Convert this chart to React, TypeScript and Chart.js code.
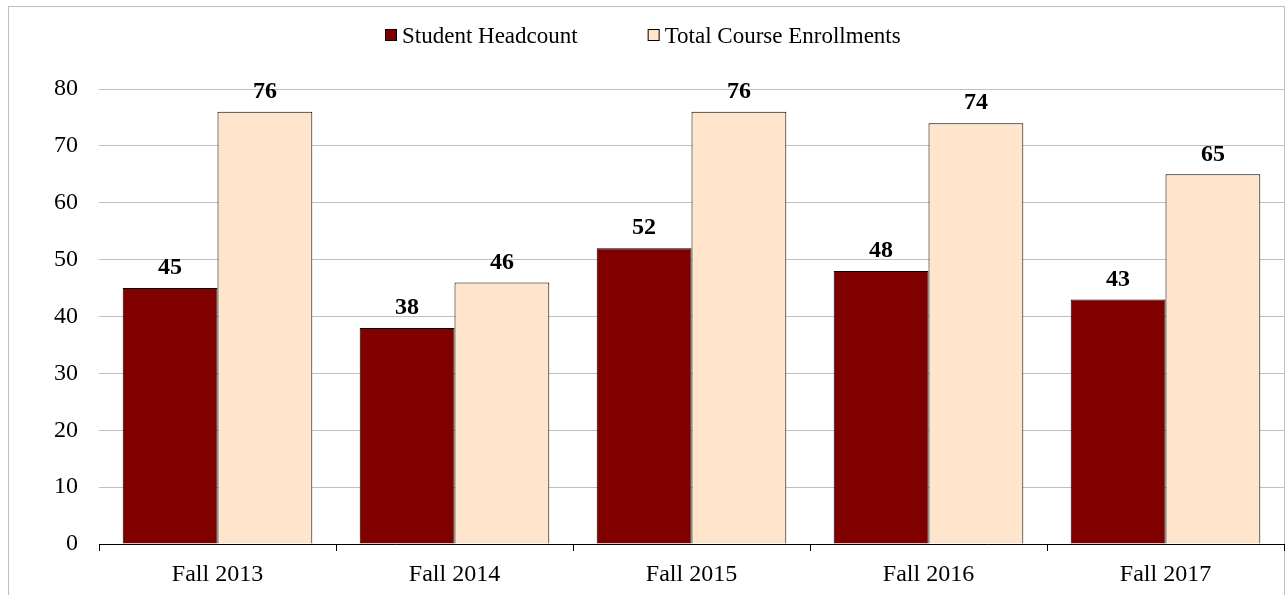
import React, { useEffect, useRef } from "react";
import { Chart, registerables } from "chart.js";

Chart.register(...registerables);

const categories = ["Fall 2013", "Fall 2014", "Fall 2015", "Fall 2016", "Fall 2017"];
const headcount = [45, 38, 52, 48, 43];
const enrollments = [76, 46, 76, 74, 65];
const yTicks = [0, 10, 20, 30, 40, 50, 60, 70, 80];
const seriesNames = ["Student Headcount", "Total Course Enrollments"];

const FONT = "'Liberation Serif', 'Times New Roman', serif";

const frameAndLegend = {
  id: "frameAndLegend",
  beforeDraw(chart: any) {
    const ctx = chart.ctx;
    ctx.save();
    ctx.fillStyle = "#ffffff";
    ctx.fillRect(0, 0, chart.width, chart.height);
    ctx.strokeStyle = "#bfbfbf";
    ctx.lineWidth = 1;
    ctx.strokeRect(8.5, 6.5, 1276, 700);
    ctx.restore();
  },
  afterDraw(chart: any) {
    const ctx = chart.ctx;
    ctx.save();
    ctx.font = `23px ${FONT}`;
    ctx.textBaseline = "middle";
    ctx.textAlign = "left";
    const y = 37;
    let x = 385;
    chart.data.datasets.forEach((ds: any) => {
      ctx.fillStyle = ds.backgroundColor;
      ctx.fillRect(x + 0.5, 29.5, 11, 11);
      ctx.strokeStyle = "#000000";
      ctx.lineWidth = 1;
      ctx.strokeRect(x + 0.5, 29.5, 11, 11);
      ctx.fillStyle = "#000000";
      ctx.fillText(ds.label, x + 17, y);
      const w = ctx.measureText(ds.label).width;
      x = x + 17 + w + 70;
    });
    ctx.restore();
  },
};

const dataLabels = {
  id: "dataLabels",
  afterDatasetsDraw(chart: any) {
    const ctx = chart.ctx;
    ctx.save();
    ctx.font = `bold 24px ${FONT}`;
    ctx.fillStyle = "#000000";
    ctx.textAlign = "center";
    ctx.textBaseline = "middle";
    chart.data.datasets.forEach((ds: any, i: number) => {
      const meta = chart.getDatasetMeta(i);
      meta.data.forEach((bar: any, j: number) => {
        ctx.fillText(String(ds.data[j]), bar.x, bar.y - 20);
      });
    });
    ctx.restore();
  },
};

export default function App() {
  const ref = useRef<HTMLCanvasElement | null>(null);
  useEffect(() => {
    if (!ref.current) return;
    const chart = new Chart(ref.current, {
      type: "bar",
      data: {
        labels: categories,
        datasets: [
          {
            label: seriesNames[0],
            data: headcount,
            backgroundColor: "#800000",
            borderColor: "#000000",
            borderWidth: 1,
            barPercentage: 1,
            categoryPercentage: 0.8,
          },
          {
            label: seriesNames[1],
            data: enrollments,
            backgroundColor: "#FFE5CC",
            borderColor: "#000000",
            borderWidth: 1,
            barPercentage: 1,
            categoryPercentage: 0.8,
          },
        ],
      },
      options: {
        animation: false,
        responsive: false,
        devicePixelRatio: 1,
        layout: { padding: { top: 89, right: 2, left: 0, bottom: 0 } },
        plugins: {
          legend: { display: false },
          tooltip: { enabled: false },
        },
        scales: {
          x: {
            afterFit(scale: any) {
              scale.height = 51;
            },
            grid: {
              offset: true,
              drawOnChartArea: false,
              drawTicks: true,
              tickLength: 7,
              color: "#000000",
            },
            border: { display: true, color: "#000000", width: 1 },
            ticks: {
              color: "#000000",
              font: { family: FONT, size: 24 },
              padding: 9,
              maxRotation: 0,
            },
          },
          y: {
            min: 0,
            max: 80,
            afterFit(scale: any) {
              scale.width = 99;
            },
            afterBuildTicks(scale: any) {
              scale.ticks = yTicks.map((v) => ({ value: v }));
            },
            grid: {
              color: "#c0c0c0",
              drawTicks: false,
            },
            border: { display: false },
            ticks: {
              color: "#000000",
              font: { family: FONT, size: 24 },
              padding: 21,
            },
          },
        },
      },
      plugins: [frameAndLegend, dataLabels],
    });
    return () => chart.destroy();
  }, []);
  return (
    <div style={{ position: "fixed", left: 0, top: 0, width: 1286, height: 595 }}>
      <canvas ref={ref} width={1286} height={595} style={{ display: "block", width: 1286, height: 595 }} />
    </div>
  );
}
